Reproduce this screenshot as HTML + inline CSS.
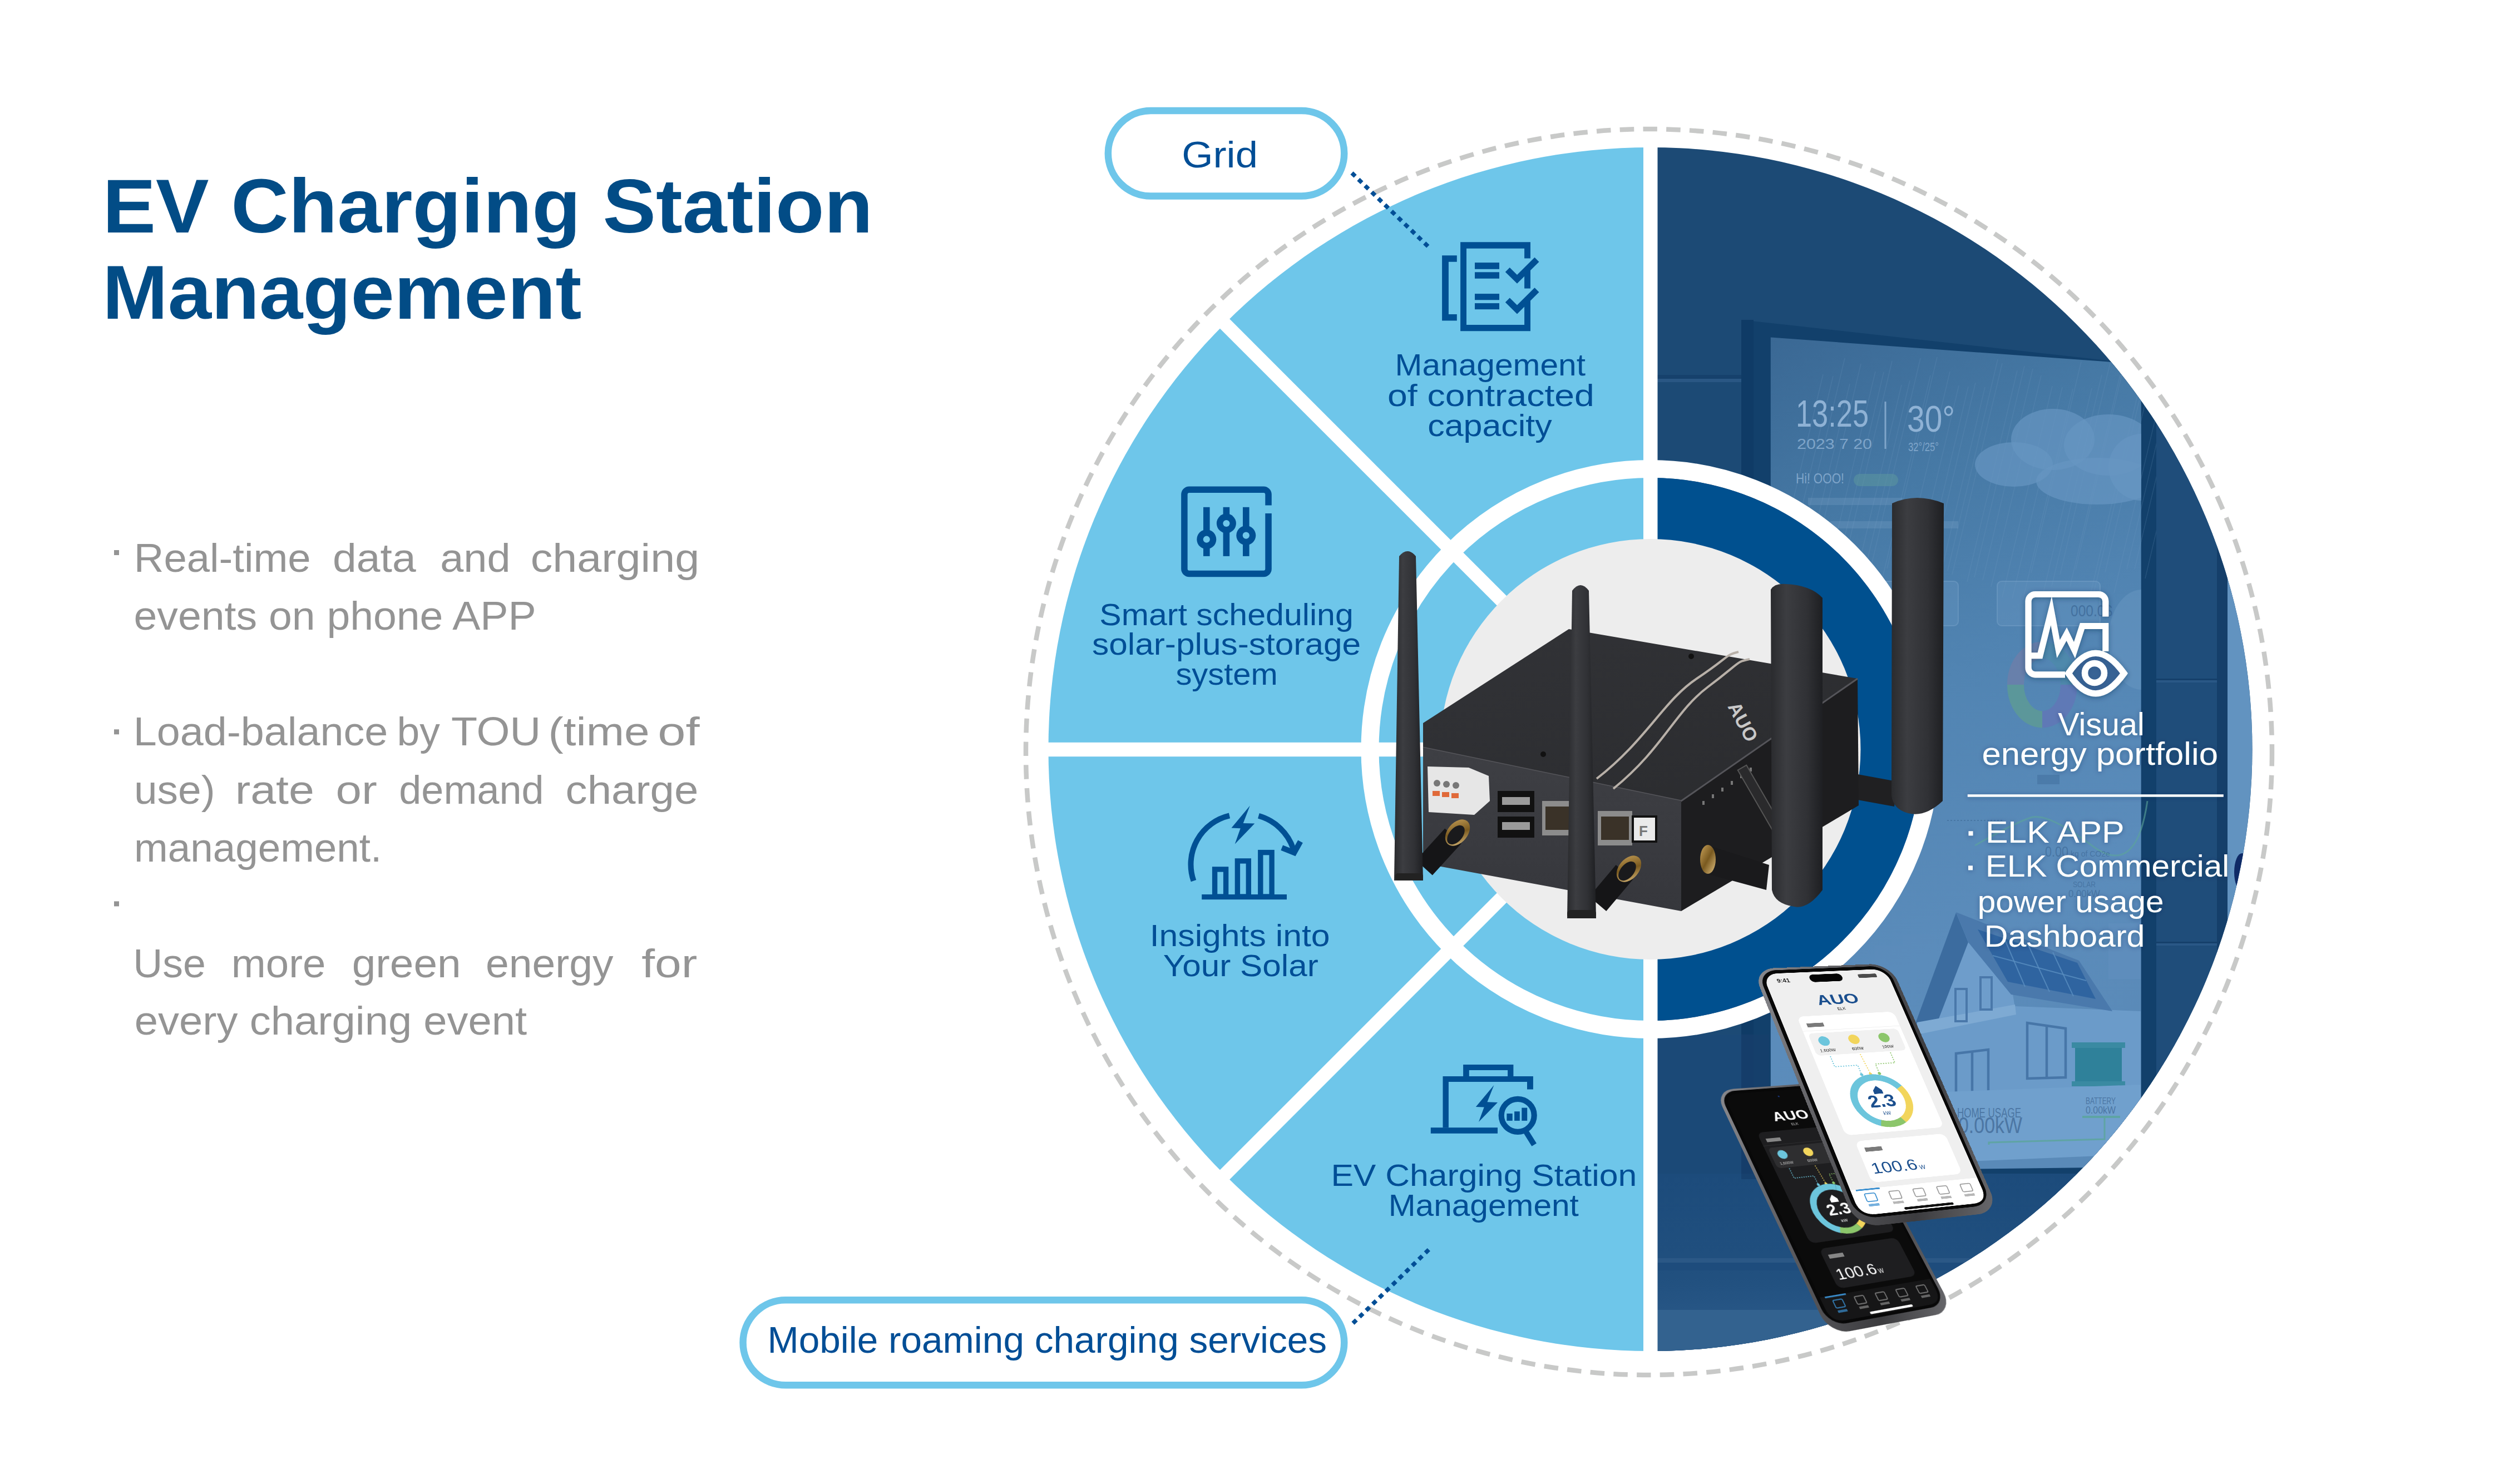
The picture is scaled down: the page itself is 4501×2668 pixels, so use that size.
<!DOCTYPE html>
<html><head><meta charset="utf-8"><title>EV Charging Station Management</title>
<style>
html,body{margin:0;padding:0;background:#fff;}
body{width:4501px;height:2668px;overflow:hidden;position:relative;}
svg{position:absolute;left:0;top:0;display:block;}
text{font-family:"Liberation Sans", sans-serif;}
div{font-family:"Liberation Sans", sans-serif;}
</style></head><body>
<svg width="4501" height="2668" viewBox="0 0 4501 2668">
<defs><filter id="sh" x="-20%" y="-20%" width="140%" height="140%"><feDropShadow dx="0" dy="2" stdDeviation="5" flood-color="#0a2a50" flood-opacity="0.45"/></filter><filter id="sh2" x="-10%" y="-10%" width="120%" height="120%"><feDropShadow dx="0" dy="1" stdDeviation="4" flood-color="#0a2a50" flood-opacity="0.35"/></filter></defs>
<text x="184.4" y="417.7" font-size="138.0" font-weight="bold" fill="#024C86" textLength="1384.5" lengthAdjust="spacingAndGlyphs" >EV Charging Station</text>
<text x="184.3" y="572.5" font-size="138.0" font-weight="bold" fill="#024C86" textLength="861.2" lengthAdjust="spacingAndGlyphs" >Management</text>
<rect x="205" y="989" width="9" height="9" fill="#949494"/>
<rect x="205" y="1311.3" width="9" height="9" fill="#949494"/>
<rect x="205" y="1620.4" width="9" height="9" fill="#949494"/>
<text x="240.8" y="1027.9" font-size="73.0" font-weight="normal" fill="#949494" textLength="317.8" lengthAdjust="spacingAndGlyphs" >Real-time</text>
<text x="598.1" y="1027.9" font-size="73.0" font-weight="normal" fill="#949494" textLength="149.6" lengthAdjust="spacingAndGlyphs" >data</text>
<text x="791.2" y="1027.9" font-size="73.0" font-weight="normal" fill="#949494" textLength="126.3" lengthAdjust="spacingAndGlyphs" >and</text>
<text x="953.7" y="1027.9" font-size="73.0" font-weight="normal" fill="#949494" textLength="303.5" lengthAdjust="spacingAndGlyphs" >charging</text>
<text x="240.5" y="1131.6" font-size="73.0" font-weight="normal" fill="#949494" textLength="723.1" lengthAdjust="spacingAndGlyphs" >events on phone APP</text>
<text x="239.7" y="1339.8" font-size="73.0" font-weight="normal" fill="#949494" textLength="457.6" lengthAdjust="spacingAndGlyphs" >Load-balance</text>
<text x="713.4" y="1339.8" font-size="73.0" font-weight="normal" fill="#949494" textLength="77.4" lengthAdjust="spacingAndGlyphs" >by</text>
<text x="810.9" y="1339.8" font-size="73.0" font-weight="normal" fill="#949494" textLength="161.3" lengthAdjust="spacingAndGlyphs" >TOU</text>
<text x="985.4" y="1339.8" font-size="73.0" font-weight="normal" fill="#949494" textLength="182.2" lengthAdjust="spacingAndGlyphs" >(time</text>
<text x="1182.2" y="1339.8" font-size="73.0" font-weight="normal" fill="#949494" textLength="75.3" lengthAdjust="spacingAndGlyphs" >of</text>
<text x="241.0" y="1445.3" font-size="73.0" font-weight="normal" fill="#949494" textLength="145.6" lengthAdjust="spacingAndGlyphs" >use)</text>
<text x="422.7" y="1445.3" font-size="73.0" font-weight="normal" fill="#949494" textLength="142.3" lengthAdjust="spacingAndGlyphs" >rate</text>
<text x="603.5" y="1445.3" font-size="73.0" font-weight="normal" fill="#949494" textLength="74.3" lengthAdjust="spacingAndGlyphs" >or</text>
<text x="717.3" y="1445.3" font-size="73.0" font-weight="normal" fill="#949494" textLength="260.3" lengthAdjust="spacingAndGlyphs" >demand</text>
<text x="1016.6" y="1445.3" font-size="73.0" font-weight="normal" fill="#949494" textLength="238.8" lengthAdjust="spacingAndGlyphs" >charge</text>
<text x="241.1" y="1548.5" font-size="73.0" font-weight="normal" fill="#949494" textLength="445.1" lengthAdjust="spacingAndGlyphs" >management.</text>
<text x="239.3" y="1757.0" font-size="73.0" font-weight="normal" fill="#949494" textLength="130.6" lengthAdjust="spacingAndGlyphs" >Use</text>
<text x="415.8" y="1757.0" font-size="73.0" font-weight="normal" fill="#949494" textLength="169.5" lengthAdjust="spacingAndGlyphs" >more</text>
<text x="632.8" y="1757.0" font-size="73.0" font-weight="normal" fill="#949494" textLength="195.8" lengthAdjust="spacingAndGlyphs" >green</text>
<text x="873.1" y="1757.0" font-size="73.0" font-weight="normal" fill="#949494" textLength="229.5" lengthAdjust="spacingAndGlyphs" >energy</text>
<text x="1153.2" y="1757.0" font-size="73.0" font-weight="normal" fill="#949494" textLength="100.1" lengthAdjust="spacingAndGlyphs" >for</text>
<text x="241.8" y="1860.3" font-size="73.0" font-weight="normal" fill="#949494" textLength="705.4" lengthAdjust="spacingAndGlyphs" >every charging event</text>
<circle cx="2964" cy="1352" r="1120" fill="none" stroke="#C8C9C8" stroke-width="8.5" stroke-dasharray="25.5 16.3"/>
<path d="M2966.5,265.0 A1082,1082 0 0 0 2966.5,2429.0 Z" fill="#6EC6EA"/>
<clipPath id="rh"><path d="M2966.5,265.0 A1082,1082 0 0 1 2966.5,2429.0 Z"/></clipPath>
<g clip-path="url(#rh)">
<rect x="2960" y="250" width="1100" height="2200" fill="#1C4A75"/>
<rect x="2960" y="1860" width="1100" height="600" fill="#1B4977"/>
<rect x="2960" y="674" width="172" height="7" fill="#16416C"/>
<rect x="2960" y="681" width="172" height="6" fill="#2A5784"/>
<polygon points="3130,575 3796,649 3876,656 3876,2115 3130,2115" fill="#12406B"/>
<rect x="3130" y="575" width="22" height="1540" fill="#0F3B66"/>
<linearGradient id="scr" x1="0" y1="0" x2="0.25" y2="1"><stop offset="0" stop-color="#3A6894"/><stop offset="0.25" stop-color="#4679A5"/><stop offset="0.5" stop-color="#5184B2"/><stop offset="0.8" stop-color="#5B8CBB"/><stop offset="1" stop-color="#5A8AB8"/></linearGradient>
<polygon points="3182.8,606.6 3848.7,654.6 3848.7,2098 3182.8,2106" fill="url(#scr)"/>
<line x1="3187" y1="1053" x2="3277" y2="673" stroke="#7AA0C8" stroke-opacity="0.18" stroke-width="1.5"/>
<line x1="3205" y1="1056" x2="3295" y2="676" stroke="#7AA0C8" stroke-opacity="0.18" stroke-width="1.5"/>
<line x1="3226" y1="1024" x2="3316" y2="644" stroke="#7AA0C8" stroke-opacity="0.18" stroke-width="1.5"/>
<line x1="3235" y1="1070" x2="3325" y2="690" stroke="#7AA0C8" stroke-opacity="0.18" stroke-width="1.5"/>
<line x1="3255" y1="1034" x2="3345" y2="654" stroke="#7AA0C8" stroke-opacity="0.18" stroke-width="1.5"/>
<line x1="3281" y1="1048" x2="3371" y2="668" stroke="#7AA0C8" stroke-opacity="0.18" stroke-width="1.5"/>
<line x1="3296" y1="1049" x2="3386" y2="669" stroke="#7AA0C8" stroke-opacity="0.18" stroke-width="1.5"/>
<line x1="3311" y1="1029" x2="3401" y2="649" stroke="#7AA0C8" stroke-opacity="0.18" stroke-width="1.5"/>
<line x1="3328" y1="1072" x2="3418" y2="692" stroke="#7AA0C8" stroke-opacity="0.18" stroke-width="1.5"/>
<line x1="3343" y1="1064" x2="3433" y2="684" stroke="#7AA0C8" stroke-opacity="0.18" stroke-width="1.5"/>
<line x1="3362" y1="1024" x2="3452" y2="644" stroke="#7AA0C8" stroke-opacity="0.18" stroke-width="1.5"/>
<line x1="3380" y1="1055" x2="3470" y2="675" stroke="#7AA0C8" stroke-opacity="0.18" stroke-width="1.5"/>
<line x1="3392" y1="1022" x2="3482" y2="642" stroke="#7AA0C8" stroke-opacity="0.18" stroke-width="1.5"/>
<line x1="3415" y1="1048" x2="3505" y2="668" stroke="#7AA0C8" stroke-opacity="0.18" stroke-width="1.5"/>
<line x1="3431" y1="1073" x2="3521" y2="693" stroke="#7AA0C8" stroke-opacity="0.18" stroke-width="1.5"/>
<line x1="3448" y1="1075" x2="3538" y2="695" stroke="#7AA0C8" stroke-opacity="0.18" stroke-width="1.5"/>
<line x1="3461" y1="1068" x2="3551" y2="688" stroke="#7AA0C8" stroke-opacity="0.18" stroke-width="1.5"/>
<line x1="3478" y1="1076" x2="3568" y2="696" stroke="#7AA0C8" stroke-opacity="0.18" stroke-width="1.5"/>
<line x1="3501" y1="1026" x2="3591" y2="646" stroke="#7AA0C8" stroke-opacity="0.18" stroke-width="1.5"/>
<line x1="3509" y1="1033" x2="3599" y2="653" stroke="#7AA0C8" stroke-opacity="0.18" stroke-width="1.5"/>
<line x1="3536" y1="1046" x2="3626" y2="666" stroke="#7AA0C8" stroke-opacity="0.18" stroke-width="1.5"/>
<line x1="3549" y1="1038" x2="3639" y2="658" stroke="#7AA0C8" stroke-opacity="0.18" stroke-width="1.5"/>
<line x1="3564" y1="1043" x2="3654" y2="663" stroke="#7AA0C8" stroke-opacity="0.18" stroke-width="1.5"/>
<line x1="3579" y1="1055" x2="3669" y2="675" stroke="#7AA0C8" stroke-opacity="0.18" stroke-width="1.5"/>
<line x1="3599" y1="1074" x2="3689" y2="694" stroke="#7AA0C8" stroke-opacity="0.18" stroke-width="1.5"/>
<line x1="3617" y1="1076" x2="3707" y2="696" stroke="#7AA0C8" stroke-opacity="0.18" stroke-width="1.5"/>
<line x1="3636" y1="1079" x2="3726" y2="699" stroke="#7AA0C8" stroke-opacity="0.18" stroke-width="1.5"/>
<line x1="3651" y1="1030" x2="3741" y2="650" stroke="#7AA0C8" stroke-opacity="0.18" stroke-width="1.5"/>
<line x1="3670" y1="1078" x2="3760" y2="698" stroke="#7AA0C8" stroke-opacity="0.18" stroke-width="1.5"/>
<line x1="3688" y1="1054" x2="3778" y2="674" stroke="#7AA0C8" stroke-opacity="0.18" stroke-width="1.5"/>
<line x1="3703" y1="1033" x2="3793" y2="653" stroke="#7AA0C8" stroke-opacity="0.18" stroke-width="1.5"/>
<line x1="3721" y1="1054" x2="3811" y2="674" stroke="#7AA0C8" stroke-opacity="0.18" stroke-width="1.5"/>
<line x1="3731" y1="1024" x2="3821" y2="644" stroke="#7AA0C8" stroke-opacity="0.18" stroke-width="1.5"/>
<line x1="3755" y1="1079" x2="3845" y2="699" stroke="#7AA0C8" stroke-opacity="0.18" stroke-width="1.5"/>
<line x1="3763" y1="1068" x2="3853" y2="688" stroke="#7AA0C8" stroke-opacity="0.18" stroke-width="1.5"/>
<line x1="3784" y1="1029" x2="3874" y2="649" stroke="#7AA0C8" stroke-opacity="0.18" stroke-width="1.5"/>
<line x1="3800" y1="1066" x2="3890" y2="686" stroke="#7AA0C8" stroke-opacity="0.18" stroke-width="1.5"/>
<line x1="3823" y1="1023" x2="3913" y2="643" stroke="#7AA0C8" stroke-opacity="0.18" stroke-width="1.5"/>
<line x1="3837" y1="1023" x2="3927" y2="643" stroke="#7AA0C8" stroke-opacity="0.18" stroke-width="1.5"/>
<line x1="3856" y1="1040" x2="3946" y2="660" stroke="#7AA0C8" stroke-opacity="0.18" stroke-width="1.5"/>
<clipPath id="scrclip"><polygon points="3182.8,606.6 3848.7,654.6 3848.7,2098 3182.8,2106"/></clipPath>
<g clip-path="url(#scrclip)" fill="#6796C2" fill-opacity="0.7"><ellipse cx="3690" cy="790" rx="75" ry="55"/><ellipse cx="3620" cy="835" rx="70" ry="40"/><ellipse cx="3790" cy="800" rx="80" ry="55"/><ellipse cx="3770" cy="865" rx="110" ry="42"/><ellipse cx="3850" cy="840" rx="60" ry="60"/></g>
<g clip-path="url(#scrclip)" fill="#6A98C3" fill-opacity="0.45"><ellipse cx="3850" cy="1150" rx="60" ry="90"/></g>
<text x="3228" y="767" font-size="69" fill="#8FB2D5" textLength="131" lengthAdjust="spacingAndGlyphs">13:25</text>
<text x="3230" y="807" font-size="26" fill="#8FB2D5" fill-opacity="0.8" textLength="135" lengthAdjust="spacingAndGlyphs">2023 7 20</text>
<rect x="3387.5" y="722" width="3" height="85" fill="#8FB2D5" fill-opacity="0.8"/>
<text x="3428" y="776" font-size="66" fill="#8FB2D5" textLength="86" lengthAdjust="spacingAndGlyphs">30°</text>
<text x="3430" y="811" font-size="22" fill="#8FB2D5" fill-opacity="0.8" textLength="55" lengthAdjust="spacingAndGlyphs">32°/25°</text>
<text x="3228" y="869" font-size="26" fill="#8FB2D5" fill-opacity="0.8" textLength="87" lengthAdjust="spacingAndGlyphs">Hi! OOO!</text>
<rect x="3332" y="852" width="80" height="22" rx="11" fill="#5E9A9E" fill-opacity="0.5"/>
<rect x="3250" y="895" width="170" height="13" fill="#8FB2D5" fill-opacity="0.2"/>
<rect x="3290" y="937" width="230" height="13" fill="#8FB2D5" fill-opacity="0.2"/>
<g fill="#6A98C4" fill-opacity="0.35" stroke="#7FA7CE" stroke-opacity="0.4" stroke-width="2"><rect x="3320" y="1045" width="200" height="80" rx="8"/><rect x="3590" y="1045" width="185" height="80" rx="8"/></g>
<text x="3400" y="1108" font-size="30" fill="#3E6A98" fill-opacity="0.8" textLength="75" lengthAdjust="spacingAndGlyphs">0.0kWh</text>
<text x="3722" y="1108" font-size="30" fill="#3E6A98" fill-opacity="0.8" textLength="75" lengthAdjust="spacingAndGlyphs">000.0$</text>
<path d="M3623.0,1231.0 A48,62.4 0 0 1 3671.0,1168.6" fill="none" stroke="#6E7EA9" stroke-opacity="0.8" stroke-width="30"/>
<path d="M3671.0,1168.6 A48,62.4 0 0 1 3719.0,1231.0" fill="none" stroke="#4D89AA" stroke-opacity="0.8" stroke-width="30"/>
<path d="M3719.0,1231.0 A48,62.4 0 0 1 3671.0,1293.4" fill="none" stroke="#6275B6" stroke-opacity="0.8" stroke-width="30"/>
<path d="M3671.0,1293.4 A48,62.4 0 0 1 3623.0,1231.0" fill="none" stroke="#5E9B94" stroke-opacity="0.8" stroke-width="30"/>
<rect x="3662" y="1393" width="40" height="17" fill="#3E6A98" fill-opacity="0.45"/>
<path d="M3550,1520 Q3620,1480 3650,1470 T3760,1520 T3860,1440" fill="none" stroke="#5BA59A" stroke-opacity="0.6" stroke-width="3"/>
<text x="3676" y="1540" font-size="26" fill="#3E6A98" fill-opacity="0.7" textLength="42" lengthAdjust="spacingAndGlyphs">0.00</text>
<text x="3722" y="1540" font-size="14" fill="#3E6A98" fill-opacity="0.7">kg of CO2e</text>
<text x="3726" y="1595" font-size="14" fill="#3E6A98" fill-opacity="0.7" textLength="41" lengthAdjust="spacingAndGlyphs">SOLAR</text>
<text x="3718" y="1613" font-size="18" fill="#3E6A98" fill-opacity="0.7" textLength="57" lengthAdjust="spacingAndGlyphs">0.00kW</text>
<line x1="3500" y1="1475" x2="3600" y2="1475" stroke="#3E6A98" stroke-opacity="0.6" stroke-width="2" stroke-dasharray="3 3"/>
<path d="M3370,1760 V1700 H3420 V1680 H3480 V1720 H3520 V1760 Z" fill="#5B8BBA" fill-opacity="0.7"/>
<path d="M3790,1700 V1660 H3848 V1760 H3790Z" fill="#5F8FBE" fill-opacity="0.7"/>
<polygon points="3454,1835 3516,1662 3618,1787 3622,1812 3454,1840" fill="#6E9DCB"/>
<polygon points="3622,1809 3848,1818 3848,1975 3454,1992 3454,1838" fill="#6B9BC9"/>
<polygon points="3443,1840 3516,1641 3538,1694 3484,1834" fill="#3C6C9F"/>
<polygon points="3516,1640 3737,1727 3797,1818 3615,1788 3538,1694" fill="#4A79AC"/>
<polygon points="3555,1671 3734,1731 3767,1796 3609,1765" fill="#2F64A0"/>
<g stroke="#5A8FC0" stroke-width="2" stroke-opacity="0.8"><line x1="3582" y1="1718" x2="3750" y2="1763"/><line x1="3601" y1="1683" x2="3640" y2="1774"/><line x1="3645" y1="1697" x2="3684" y2="1783"/><line x1="3690" y1="1712" x2="3727" y2="1791"/></g>
<polygon points="3446,1838 3622,1806 3624,1824 3446,1860" fill="#7EAAD3"/>
<g fill="none" stroke="#4A78AA" stroke-width="4"><rect x="3515" y="1778" width="20" height="58"/><rect x="3560" y="1757" width="20" height="58"/></g>
<g fill="none" stroke="#4776A8" stroke-width="4.5"><polygon points="3644,1839 3713,1849 3713,1937 3644,1939"/><line x1="3679" y1="1844" x2="3679" y2="1938"/><polygon points="3516,1894 3574,1887 3574,1970 3516,1972"/><line x1="3545" y1="1890" x2="3545" y2="1971"/></g>
<rect x="3730" y="1878" width="84" height="72" fill="#2F819A"/>
<rect x="3724" y="1874" width="96" height="10" fill="#3A8AA2"/>
<rect x="3724" y="1944" width="96" height="9" fill="#3A8AA2"/>
<polygon points="3440,1965 3848,1950 3848,2075 3440,2092" fill="#70A0CD"/>
<text x="3518" y="2009" font-size="24" fill="#4C76A3" textLength="115" lengthAdjust="spacingAndGlyphs">HOME USAGE</text>
<text x="3520" y="2037" font-size="40" fill="#4C76A3" textLength="115" lengthAdjust="spacingAndGlyphs">0.00kW</text>
<text x="3749" y="1985" font-size="17" fill="#4C76A3" textLength="54" lengthAdjust="spacingAndGlyphs">BATTERY</text>
<text x="3749" y="2002" font-size="19" fill="#4C76A3" textLength="54" lengthAdjust="spacingAndGlyphs">0.00kW</text>
<rect x="3743" y="2006" width="68" height="4" fill="#5AA59A" fill-opacity="0.8"/>
<polyline points="3575,2058 3575,2054 3783,2048 3783,2010" fill="none" stroke="#5BA59A" stroke-opacity="0.8" stroke-width="3"/>
<rect x="3876" y="600" width="109" height="1850" fill="#1F4D7A"/>
<rect x="3985" y="600" width="19" height="1850" fill="#153F6A"/>
<rect x="4004" y="600" width="60" height="1850" fill="#6293C0"/>
<rect x="3876" y="1220" width="109" height="3" fill="#15406B"/><rect x="3876" y="1223" width="109" height="4" fill="#2A5886"/>
<rect x="3876" y="1693" width="109" height="3" fill="#15406B"/><rect x="3876" y="1696" width="109" height="4" fill="#2A5886"/>
<ellipse cx="4030" cy="1568" rx="14" ry="34" fill="#0F2A66"/>
<linearGradient id="lowb" x1="0" y1="0" x2="0" y2="1"><stop offset="0" stop-color="#1C4B7B"/><stop offset="0.55" stop-color="#21507F"/><stop offset="1" stop-color="#2F5E8E"/></linearGradient>
<rect x="2960" y="2110" width="1100" height="340" fill="url(#lowb)"/>
<rect x="2960" y="2262" width="1100" height="8" fill="#2B5886"/>
<rect x="2960" y="2270" width="1100" height="14" fill="#1E4C7C"/>
<rect x="2960" y="2355" width="1100" height="90" fill="#33628F"/>
<rect x="3130" y="1860" width="50" height="260" fill="#163F6B" fill-opacity="0.8"/>
</g>
<circle cx="2966.5" cy="1347.0" r="504" fill="none" stroke="#fff" stroke-width="32"/>
<path d="M2966.5,859.0 A488,488 0 0 1 2966.5,1835.0 Z" fill="#00508F"/>
<rect x="2954" y="260.0" width="25.5" height="2174" fill="#fff"/>
<rect x="1879.5" y="1334.8" width="1087" height="25.4" fill="#fff"/>
<line x1="2966.5" y1="1347.0" x2="2191.4178" y2="571.9178" stroke="#fff" stroke-width="24.5"/>
<line x1="2966.5" y1="1347.0" x2="2191.4178" y2="2122.0822" stroke="#fff" stroke-width="24.5"/>
<circle cx="2966.5" cy="1347.0" r="378" fill="#EDEDED"/>
<defs><linearGradient id="antA" x1="0" y1="0" x2="1" y2="0"><stop offset="0" stop-color="#2A2B2E"/><stop offset="0.3" stop-color="#3C3D41"/><stop offset="0.7" stop-color="#303135"/><stop offset="1" stop-color="#1E1F22"/></linearGradient><linearGradient id="topF" x1="0" y1="0" x2="1" y2="1"><stop offset="0" stop-color="#323337"/><stop offset="1" stop-color="#2A2B2E"/></linearGradient><linearGradient id="frontF" x1="0" y1="0" x2="0" y2="1"><stop offset="0" stop-color="#3E3F44"/><stop offset="1" stop-color="#36373C"/></linearGradient><linearGradient id="gold" x1="0" y1="0" x2="1" y2="1"><stop offset="0" stop-color="#C9A25A"/><stop offset="0.5" stop-color="#7A5A20"/><stop offset="1" stop-color="#E0C080"/></linearGradient></defs>
<polygon points="3300,1385 3410,1405 3405,1450 3295,1430" fill="#202022"/>
<ellipse cx="3300" cy="1408" rx="14" ry="26" fill="url(#gold)"/>
<path d="M3401,905 Q3445,885 3494,905 L3492,1440 Q3460,1470 3430,1462 Q3403,1455 3400,1430 Z" fill="url(#antA)"/>
<polygon points="3022,1440 3339,1220 3341,1448 3022,1638" fill="#1D1D1F"/>
<polygon points="2558,1300 2820,1131 3339,1220 3022,1440 2558,1344" fill="url(#topF)"/>
<polyline points="2558,1344 3022,1440 3339,1220" fill="none" stroke="#55555A" stroke-width="3"/>
<polygon points="2558,1344 3022,1440 3022,1638 2558,1552" fill="url(#frontF)"/>
<path d="M2870,1400 C2960,1330 2990,1260 3050,1220 S3100,1178 3125,1172" fill="none" stroke="#B8B0A8" stroke-width="4"/>
<path d="M2900,1418 C2990,1345 3010,1280 3070,1235 S3120,1190 3145,1185" fill="none" stroke="#B8B0A8" stroke-width="4"/>
<text x="0" y="0" font-size="34" font-weight="bold" fill="#C8C8C8" transform="translate(3105,1270) rotate(62)">AUO</text>
<circle cx="3040" cy="1180" r="5" fill="#111"/><circle cx="2774" cy="1356" r="5" fill="#111"/>
<polygon points="2566,1378 2640,1380 2676,1395 2678,1440 2650,1465 2568,1460" fill="#E6E6E6"/>
<g fill="#777"><circle cx="2583" cy="1408" r="6"/><circle cx="2600" cy="1410" r="6"/><circle cx="2617" cy="1412" r="6"/></g>
<g fill="#E06A3A"><rect x="2575" y="1422" width="13" height="9"/><rect x="2592" y="1424" width="13" height="9"/><rect x="2609" y="1426" width="13" height="9"/></g>
<rect x="2692" y="1422" width="66" height="38" fill="#111"/><rect x="2700" y="1433" width="50" height="14" fill="#9A9A9A"/>
<rect x="2692" y="1468" width="66" height="38" fill="#111"/><rect x="2700" y="1478" width="50" height="14" fill="#9A9A9A"/>
<rect x="2772" y="1440" width="62" height="62" fill="#8C8C8C"/><rect x="2778" y="1450" width="50" height="42" fill="#3A3228"/>
<rect x="2872" y="1458" width="62" height="62" fill="#8C8C8C"/><rect x="2878" y="1468" width="50" height="42" fill="#3A3228"/>
<rect x="2935" y="1468" width="42" height="45" fill="#EAEAEA" stroke="#111" stroke-width="4"/>
<text x="2946" y="1503" font-size="26" font-weight="bold" fill="#777">F</text>
<g fill="#777"><rect x="3060" y="1440" width="4" height="7"/><rect x="3077" y="1428" width="4" height="7"/><rect x="3094" y="1416" width="4" height="7"/><rect x="3111" y="1404" width="4" height="7"/><rect x="3128" y="1392" width="4" height="7"/><rect x="3145" y="1380" width="4" height="7"/></g>
<rect x="3160" y="1370" width="18" height="150" fill="#2A2A2C" stroke="#555" stroke-width="2" transform="rotate(-30 3169 1445)"/>
<line x1="2612" y1="1503" x2="2560" y2="1560" stroke="#151517" stroke-width="40"/>
<ellipse cx="2620" cy="1497" rx="18" ry="27" fill="url(#gold)" transform="rotate(40 2620 1497)"/>
<ellipse cx="2617" cy="1501" rx="12" ry="20" fill="#1A1A1C" transform="rotate(40 2617 1501)"/>
<line x1="2920" y1="1568" x2="2872" y2="1625" stroke="#151517" stroke-width="40"/>
<ellipse cx="2928" cy="1562" rx="18" ry="27" fill="url(#gold)" transform="rotate(40 2928 1562)"/>
<ellipse cx="2925" cy="1566" rx="12" ry="20" fill="#1A1A1C" transform="rotate(40 2925 1566)"/>
<polygon points="3070,1520 3180,1555 3175,1600 3065,1570" fill="#1A1A1C"/>
<ellipse cx="3070" cy="1545" rx="14" ry="26" fill="url(#gold)"/>
<path d="M2515,1000 Q2530,982 2545,1000 L2558,1583 L2506,1583 Z" fill="url(#antA)"/>
<rect x="2508" y="1570" width="50" height="13" rx="5" fill="#222"/>
<path d="M2826,1062 Q2841,1042 2856,1062 L2869,1651 L2817,1651 Z" fill="url(#antA)"/>
<rect x="2817" y="1636" width="52" height="15" rx="6" fill="#222"/>
<path d="M3183,1060 Q3190,1048 3210,1050 Q3255,1052 3276,1075 L3276,1600 Q3250,1635 3225,1630 Q3190,1625 3185,1600 Z" fill="url(#antA)"/>
<text x="2507.5" y="674.5" font-size="56.0" font-weight="normal" fill="#004E96" textLength="342.5" lengthAdjust="spacingAndGlyphs" >Management</text>
<text x="2494.0" y="729.7" font-size="56.0" font-weight="normal" fill="#004E96" textLength="371.9" lengthAdjust="spacingAndGlyphs" >of contracted</text>
<text x="2566.3" y="784.0" font-size="56.0" font-weight="normal" fill="#004E96" textLength="223.4" lengthAdjust="spacingAndGlyphs" >capacity</text>
<text x="1976.3" y="1124.0" font-size="56.0" font-weight="normal" fill="#004E96" textLength="456.5" lengthAdjust="spacingAndGlyphs" >Smart scheduling</text>
<text x="1963.0" y="1177.4" font-size="56.0" font-weight="normal" fill="#004E96" textLength="483.1" lengthAdjust="spacingAndGlyphs" >solar-plus-storage</text>
<text x="2113.4" y="1231.4" font-size="56.0" font-weight="normal" fill="#004E96" textLength="183.4" lengthAdjust="spacingAndGlyphs" >system</text>
<text x="2066.7" y="1701.4" font-size="56.0" font-weight="normal" fill="#004E96" textLength="323.8" lengthAdjust="spacingAndGlyphs" >Insights into</text>
<text x="2090.7" y="1754.7" font-size="56.0" font-weight="normal" fill="#004E96" textLength="279.0" lengthAdjust="spacingAndGlyphs" >Your Solar</text>
<text x="2392.4" y="2131.8" font-size="56.0" font-weight="normal" fill="#004E96" textLength="549.8" lengthAdjust="spacingAndGlyphs" >EV Charging Station</text>
<text x="2495.7" y="2185.8" font-size="56.0" font-weight="normal" fill="#004E96" textLength="342.2" lengthAdjust="spacingAndGlyphs" >Management</text>
<rect x="1991.85" y="199.05" width="424.4000000000001" height="153.39999999999998" rx="76.69999999999999" fill="#fff" stroke="#6EC6EA" stroke-width="12.5"/>
<text x="2124.2" y="300.6" font-size="66.0" font-weight="normal" fill="#004E96" textLength="136.8" lengthAdjust="spacingAndGlyphs" >Grid</text>
<rect x="1335.55" y="2337.15" width="1080.7" height="153.0999999999999" rx="76.54999999999995" fill="#fff" stroke="#6EC6EA" stroke-width="12.5"/>
<text x="1379.4" y="2431.7" font-size="66.0" font-weight="normal" fill="#004E96" textLength="1005.7" lengthAdjust="spacingAndGlyphs" >Mobile roaming charging services</text>
<line x1="2430" y1="311" x2="2568" y2="444" stroke="#004E96" stroke-width="7.5" stroke-dasharray="8.5 8"/>
<line x1="2432" y1="2379" x2="2570" y2="2245" stroke="#004E96" stroke-width="7.5" stroke-dasharray="8.5 8"/>
<path d="M2618.8,459.3H2592.1V576.4H2618.8V565.1H2603.9V470.8H2618.8Z" fill="#005094"/>
<path d="M2740.1,464.4V446.8H2636V583.9H2740.1V540.2H2751V595.2H2625.1V435.3H2751V464.4Z" fill="#005094"/>
<rect x="2740.1" y="485.6" width="10.9" height="33" fill="#005094"/>
<rect x="2651" y="472.1" width="44" height="11.7" fill="#005094"/>
<rect x="2651" y="489.3" width="44" height="11.5" fill="#005094"/>
<rect x="2651" y="528.1" width="44" height="11.2" fill="#005094"/>
<rect x="2651" y="545.1" width="44" height="11.1" fill="#005094"/>
<polyline points="2709.8,484.9 2727,501.9 2762.5,466.7" fill="none" stroke="#005094" stroke-width="11.3" stroke-linejoin="miter"/>
<polyline points="2709.8,539.5 2727,556.5 2762.5,521.3" fill="none" stroke="#005094" stroke-width="11.3" stroke-linejoin="miter"/>
<path d="M2280.05,908.6V889a8.7,8.7 0 0 0 -8.7,-8.7H2137.6a8.7,8.7 0 0 0 -8.7,8.7V1022.7a8.7,8.7 0 0 0 8.7,8.7H2271.35a8.7,8.7 0 0 0 8.7,-8.7V923" fill="none" stroke="#005094" stroke-width="11.5"/>
<rect x="2163.0" y="911.8" width="11.6" height="88.1" fill="#005094"/>
<circle cx="2168.8" cy="969.7" r="17.5" fill="#005094"/>
<circle cx="2168.8" cy="969.7" r="6.1" fill="#6EC6EA"/>
<rect x="2198.6" y="911.8" width="11.6" height="88.1" fill="#005094"/>
<circle cx="2204.4" cy="941" r="17.5" fill="#005094"/>
<circle cx="2204.4" cy="941" r="6.1" fill="#6EC6EA"/>
<rect x="2234.0" y="911.8" width="11.6" height="88.1" fill="#005094"/>
<circle cx="2239.8" cy="962.6" r="17.5" fill="#005094"/>
<circle cx="2239.8" cy="962.6" r="6.1" fill="#6EC6EA"/>
<rect x="2160.2" y="1608" width="152.8" height="9.2" fill="#005094"/>
<rect x="2183.6" y="1562.9" width="20.0" height="49.1" fill="none" stroke="#005094" stroke-width="9.4"/>
<rect x="2224.4" y="1547.9" width="19.9" height="64.1" fill="none" stroke="#005094" stroke-width="9.4"/>
<rect x="2265.8" y="1532.6" width="20.3" height="79.4" fill="none" stroke="#005094" stroke-width="9.4"/>
<path d="M2145.5,1583.6 A90,90 0 0 1 2210,1466.4" fill="none" stroke="#005094" stroke-width="10"/>
<path d="M2262.4,1466.8 A92,92 0 0 1 2325,1527" fill="none" stroke="#005094" stroke-width="10"/>
<polyline points="2304.2,1524.1 2326.3,1532.9 2337.5,1512.9" fill="none" stroke="#005094" stroke-width="10"/>
<polygon points="2246.8,1448.5 2213.5,1488.6 2229.7,1489.2 2219.7,1517.5 2255.3,1480.5 2234.7,1480.1" fill="#005094"/>
<path d="M2630.1,1934.9V1914H2720.4V1934.9H2710.1V1924.1H2640.8V1934.9Z" fill="#005094"/>
<path d="M2593.5,2027.2V1934.9H2755.9V1958.4H2745V1945H2603.9V2027.2Z" fill="#005094"/>
<rect x="2571.8" y="2027.2" width="120.2" height="10.6" fill="#005094"/>
<polygon points="2685.4,1951 2652.8,1989.9 2667.7,1990.5 2658,2017.1 2692,1981.9 2673.4,1981.3" fill="#005094"/>
<circle cx="2728.2" cy="2005.3" r="29.5" fill="none" stroke="#005094" stroke-width="10.2"/>
<line x1="2742" y1="2033" x2="2757.7" y2="2058.2" stroke="#005094" stroke-width="10"/>
<rect x="2708.4" y="2002" width="10.3" height="12.9" fill="#005094"/>
<rect x="2722.1" y="1998.2" width="9.7" height="16.7" fill="#005094"/>
<rect x="2735.3" y="1991.6" width="9.9" height="23.3" fill="#005094"/>
<g filter="url(#sh)">
<path d="M3784.8,1108.5V1081a12.5,12.5 0 0 0 -12.5,-12.5H3658.5a12.5,12.5 0 0 0 -12.5,12.5V1200.3a12.5,12.5 0 0 0 12.5,12.5H3712" fill="none" stroke="#fff" stroke-width="11.2"/>
<polyline points="3646,1178.8 3667,1178.8 3687.2,1098 3700,1166.8 3714.8,1140 3729,1168.9 3743,1125.6 3784.8,1125.6 3784.8,1171" fill="none" stroke="#fff" stroke-width="11" stroke-linejoin="miter" stroke-miterlimit="10"/>
<path d="M3718,1210.6 Q3766,1138 3818,1210.6 Q3766,1283 3718,1210.6Z" fill="rgba(50,85,140,0.55)" stroke="#fff" stroke-width="11.3"/>
<circle cx="3765" cy="1209.9" r="17.5" fill="none" stroke="#fff" stroke-width="11.5"/>
</g>
<g filter="url(#sh2)">
<text x="3699.2" y="1321.6" font-size="57.0" font-weight="normal" fill="#FFFFFF" textLength="155.5" lengthAdjust="spacingAndGlyphs" >Visual</text>
<text x="3562.4" y="1375.3" font-size="57.0" font-weight="normal" fill="#FFFFFF" textLength="424.6" lengthAdjust="spacingAndGlyphs" >energy portfolio</text>
<rect x="3536.8" y="1428.2" width="460" height="4.5" fill="#fff"/>
<rect x="3538.5" y="1494.3" width="8" height="8" fill="#fff"/>
<rect x="3538" y="1556.3" width="8" height="8" fill="#fff"/>
<text x="3568.9" y="1514.9" font-size="56.0" font-weight="normal" fill="#FFFFFF" textLength="249.7" lengthAdjust="spacingAndGlyphs" >ELK APP</text>
<text x="3569.0" y="1576.4" font-size="56.0" font-weight="normal" fill="#FFFFFF" textLength="438.1" lengthAdjust="spacingAndGlyphs" >ELK Commercial</text>
<text x="3554.8" y="1640.2" font-size="56.0" font-weight="normal" fill="#FFFFFF" textLength="334.8" lengthAdjust="spacingAndGlyphs" >power usage</text>
<text x="3566.8" y="1701.7" font-size="56.0" font-weight="normal" fill="#FFFFFF" textLength="288.6" lengthAdjust="spacingAndGlyphs" >Dashboard</text>
</g>
</svg>
<div style="position:absolute;left:0;top:0;width:220px;height:450px;transform-origin:0 0;transform:matrix3d(1.7629796,0.4094623,0,0.00024557538,-0.35564081,0.38260053,0,-0.00024799052,0,0,1,0,3082,1960,0,1);"><svg width="220" height="450" viewBox="0 0 220 450" style="display:block;overflow:visible"><defs><linearGradient id="metd" x1="0" y1="0" x2="1" y2="1"><stop offset="0" stop-color="#8C8C90"/><stop offset="0.35" stop-color="#5A5A5E"/><stop offset="0.7" stop-color="#3C3C3F"/><stop offset="1" stop-color="#6A6A6E"/></linearGradient></defs><rect x="0" y="0" width="220" height="450" rx="34" fill="url(#metd)"/><rect x="6" y="4" width="208" height="433" rx="29" fill="#080808"/><rect x="12" y="10" width="197" height="421" rx="23" fill="#0B0B0B"/><circle cx="108" cy="22" r="1.5" fill="#1A3A8A"/><text x="112" y="71" font-size="25" font-weight="bold" fill="#FFFFFF" text-anchor="middle" textLength="66" lengthAdjust="spacingAndGlyphs">AUO</text><text x="112" y="82" font-size="7" fill="#CCCCCC" text-anchor="middle">ELK</text><rect x="38" y="90" width="154" height="210" rx="10" fill="#1E1E20"/><rect x="48" y="103" width="26" height="7" fill="#CCCCCC" fill-opacity="0.6"/><rect x="38" y="116" width="154" height="1" fill="#2E2E30"/><rect x="44" y="121" width="142" height="40" rx="7" fill="#2E2E30"/><circle cx="64" cy="136" r="8.5" fill="#6CC5DC"/><circle cx="111" cy="136" r="8.5" fill="#F2D55C"/><circle cx="159" cy="136" r="8.5" fill="#8CC66B"/><text x="64" y="155" font-size="7" fill="#CCCCCC" text-anchor="middle">1,600W</text><text x="111" y="155" font-size="7" fill="#CCCCCC" text-anchor="middle">600W</text><text x="159" y="155" font-size="7" fill="#CCCCCC" text-anchor="middle">100W</text><polyline points="64,163 64,182 100,182 100,198" fill="none" stroke="#6CC5DC" stroke-width="1.5" stroke-dasharray="2 2"/><polyline points="111,163 114,198" fill="none" stroke="#F2D55C" stroke-width="1.5" stroke-dasharray="2 2"/><polyline points="159,163 159,182 128,182 128,198" fill="none" stroke="#8CC66B" stroke-width="1.5" stroke-dasharray="2 2"/><circle cx="100" cy="199" r="2.5" fill="#6CC5DC"/><circle cx="114" cy="199" r="2.5" fill="#F2D55C"/><circle cx="128" cy="199" r="2.5" fill="#8CC66B"/><path d="M99.98,284.53 A41,41 0 0 1 128.02,207.47" fill="none" stroke="#6CC5DC" stroke-width="11"/><path d="M128.02,207.47 A41,41 0 0 1 149.51,225.50" fill="none" stroke="#6CC5DC" stroke-width="11"/><path d="M149.51,225.50 A41,41 0 0 1 134.50,281.51" fill="none" stroke="#F2D55C" stroke-width="11"/><path d="M134.50,281.51 A41,41 0 0 1 98.64,284.01" fill="none" stroke="#8CC66B" stroke-width="11"/><text x="114" y="257" font-size="30" font-weight="bold" fill="#FFFFFF" text-anchor="middle">2.3</text><text x="114" y="271" font-size="8" fill="#FFFFFF" text-anchor="middle">kW</text><path d="M107,228 L114,220 L121,228 V234 H107Z" fill="#FFFFFF"/><rect x="48" y="311" width="141" height="70" rx="10" fill="#1E1E20"/><rect x="58" y="323" width="26" height="7" fill="#CCCCCC" fill-opacity="0.6"/><text x="56" y="367" font-size="25" fill="#FFFFFF" textLength="70" lengthAdjust="spacingAndGlyphs">100.6</text><text x="128" y="367" font-size="10" fill="#FFFFFF">W</text><path d="M12,390 H209 V408 Q209,432 185,432 H36 Q12,432 12,408Z" fill="#161617"/><rect x="20" y="390" width="36" height="2.5" fill="#3A8FD0"/><rect x="30" y="398" width="16" height="13" rx="2" fill="none" stroke="#3A8FD0" stroke-width="1.5"/><rect x="30" y="415" width="16" height="4" fill="#3A8FD0" fill-opacity="0.7"/><rect x="67" y="398" width="16" height="13" rx="2" fill="none" stroke="#888" stroke-width="1.5"/><rect x="67" y="415" width="16" height="4" fill="#888" fill-opacity="0.7"/><rect x="104" y="398" width="16" height="13" rx="2" fill="none" stroke="#888" stroke-width="1.5"/><rect x="104" y="415" width="16" height="4" fill="#888" fill-opacity="0.7"/><rect x="141" y="398" width="16" height="13" rx="2" fill="none" stroke="#888" stroke-width="1.5"/><rect x="141" y="415" width="16" height="4" fill="#888" fill-opacity="0.7"/><rect x="178" y="398" width="16" height="13" rx="2" fill="none" stroke="#888" stroke-width="1.5"/><rect x="178" y="415" width="16" height="4" fill="#888" fill-opacity="0.7"/><rect x="80" y="426" width="76" height="4" rx="2" fill="#FFFFFF"/></svg></div><div style="position:absolute;left:0;top:0;width:220px;height:450px;transform-origin:0 0;transform:matrix3d(1.6834753,0.24044935,0,0.00016507153,-0.05030139,0.72385139,0,-0.00014022743,0,0,1,0,3150,1742,0,1);"><svg width="220" height="450" viewBox="0 0 220 450" style="display:block;overflow:visible"><defs><linearGradient id="metw" x1="0" y1="0" x2="1" y2="1"><stop offset="0" stop-color="#8C8C90"/><stop offset="0.35" stop-color="#5A5A5E"/><stop offset="0.7" stop-color="#3C3C3F"/><stop offset="1" stop-color="#6A6A6E"/></linearGradient></defs><rect x="0" y="0" width="220" height="450" rx="34" fill="url(#metw)"/><rect x="6" y="4" width="208" height="433" rx="29" fill="#080808"/><rect x="12" y="10" width="197" height="421" rx="23" fill="#EFEFEF"/><rect x="82" y="15" width="52" height="14" rx="7" fill="#050505"/><text x="30" y="27" font-size="10" font-weight="bold" fill="#222222">9:41</text><rect x="160" y="18" width="30" height="7" rx="2" fill="#222222" fill-opacity="0.8"/><text x="112" y="71" font-size="25" font-weight="bold" fill="#1B4F8E" text-anchor="middle" textLength="66" lengthAdjust="spacingAndGlyphs">AUO</text><text x="112" y="82" font-size="7" fill="#222222" text-anchor="middle">ELK</text><rect x="38" y="90" width="154" height="210" rx="10" fill="#FFFFFF"/><rect x="48" y="103" width="26" height="7" fill="#222222" fill-opacity="0.6"/><rect x="38" y="116" width="154" height="1" fill="#F1F1F1"/><rect x="44" y="121" width="142" height="40" rx="7" fill="#F1F1F1"/><circle cx="64" cy="136" r="8.5" fill="#6CC5DC"/><circle cx="111" cy="136" r="8.5" fill="#F2D55C"/><circle cx="159" cy="136" r="8.5" fill="#8CC66B"/><text x="64" y="155" font-size="7" fill="#222222" text-anchor="middle">1,600W</text><text x="111" y="155" font-size="7" fill="#222222" text-anchor="middle">600W</text><text x="159" y="155" font-size="7" fill="#222222" text-anchor="middle">100W</text><polyline points="64,163 64,182 100,182 100,198" fill="none" stroke="#6CC5DC" stroke-width="1.5" stroke-dasharray="2 2"/><polyline points="111,163 114,198" fill="none" stroke="#F2D55C" stroke-width="1.5" stroke-dasharray="2 2"/><polyline points="159,163 159,182 128,182 128,198" fill="none" stroke="#8CC66B" stroke-width="1.5" stroke-dasharray="2 2"/><circle cx="100" cy="199" r="2.5" fill="#6CC5DC"/><circle cx="114" cy="199" r="2.5" fill="#F2D55C"/><circle cx="128" cy="199" r="2.5" fill="#8CC66B"/><path d="M99.98,284.53 A41,41 0 0 1 128.02,207.47" fill="none" stroke="#6CC5DC" stroke-width="11"/><path d="M128.02,207.47 A41,41 0 0 1 149.51,225.50" fill="none" stroke="#6CC5DC" stroke-width="11"/><path d="M149.51,225.50 A41,41 0 0 1 134.50,281.51" fill="none" stroke="#F2D55C" stroke-width="11"/><path d="M134.50,281.51 A41,41 0 0 1 98.64,284.01" fill="none" stroke="#8CC66B" stroke-width="11"/><text x="114" y="257" font-size="30" font-weight="bold" fill="#1B4F8E" text-anchor="middle">2.3</text><text x="114" y="271" font-size="8" fill="#1B4F8E" text-anchor="middle">kW</text><path d="M107,228 L114,220 L121,228 V234 H107Z" fill="#1B4F8E"/><rect x="48" y="311" width="141" height="70" rx="10" fill="#FFFFFF"/><rect x="58" y="323" width="26" height="7" fill="#222222" fill-opacity="0.6"/><text x="56" y="367" font-size="25" fill="#1B4F8E" textLength="70" lengthAdjust="spacingAndGlyphs">100.6</text><text x="128" y="367" font-size="10" fill="#1B4F8E">W</text><path d="M12,390 H209 V408 Q209,432 185,432 H36 Q12,432 12,408Z" fill="#FFFFFF"/><rect x="20" y="390" width="36" height="2.5" fill="#3A8FD0"/><rect x="30" y="398" width="16" height="13" rx="2" fill="none" stroke="#3A8FD0" stroke-width="1.5"/><rect x="30" y="415" width="16" height="4" fill="#3A8FD0" fill-opacity="0.7"/><rect x="67" y="398" width="16" height="13" rx="2" fill="none" stroke="#999" stroke-width="1.5"/><rect x="67" y="415" width="16" height="4" fill="#999" fill-opacity="0.7"/><rect x="104" y="398" width="16" height="13" rx="2" fill="none" stroke="#999" stroke-width="1.5"/><rect x="104" y="415" width="16" height="4" fill="#999" fill-opacity="0.7"/><rect x="141" y="398" width="16" height="13" rx="2" fill="none" stroke="#999" stroke-width="1.5"/><rect x="141" y="415" width="16" height="4" fill="#999" fill-opacity="0.7"/><rect x="178" y="398" width="16" height="13" rx="2" fill="none" stroke="#999" stroke-width="1.5"/><rect x="178" y="415" width="16" height="4" fill="#999" fill-opacity="0.7"/><rect x="80" y="426" width="76" height="4" rx="2" fill="#111111"/></svg></div>
</body></html>
